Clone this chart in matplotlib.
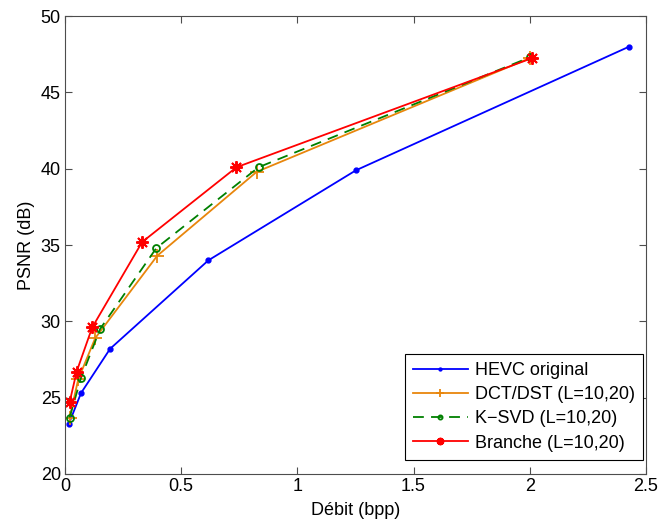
import matplotlib
matplotlib.use('Agg')
import matplotlib.pyplot as plt

plt.rcParams['font.family'] = ['Liberation Sans', 'DejaVu Sans']
plt.rcParams['font.size'] = 13

# rate (bpp) / PSNR (dB)
hevc_x = [0.017, 0.069, 0.194, 0.617, 1.252, 2.427]
hevc_y = [23.3, 25.3, 28.2, 34.0, 39.9, 48.0]

dct_x = [0.02, 0.057, 0.13, 0.397, 0.825, 2.0]
dct_y = [23.7, 26.2, 28.9, 34.3, 39.8, 47.25]

ksvd_x = [0.02, 0.069, 0.151, 0.393, 0.833, 2.0]
ksvd_y = [23.7, 26.3, 29.5, 34.8, 40.1, 47.3]

branche_x = [0.02, 0.05, 0.117, 0.332, 0.738, 2.01]
branche_y = [24.7, 26.7, 29.6, 35.2, 40.1, 47.25]

fig = plt.figure(figsize=(6.59, 5.22), dpi=100)
ax = fig.add_axes([0.0986, 0.092, 0.8816, 0.877])

ax.plot(hevc_x, hevc_y, color='#0000ff', marker='.', markersize=7, lw=1.3, label='HEVC original')
ax.plot(dct_x, dct_y, color='#e8860c', marker='+', markersize=10, mew=1.3, lw=1.3, label='DCT/DST (L=10,20)')
ax.plot(ksvd_x, ksvd_y, color='#008000', marker='o', markersize=5, mfc='none', mew=1.3, lw=1.3,
        dashes=(6, 4), label='K\u2212SVD (L=10,20)')
# matlab style asterisk: 8-armed star
ax.plot(branche_x, branche_y, color='#ff0000', marker=(8, 2, 0), markersize=9, mew=1.4, lw=1.3,
        label='Branche (L=10,20)')

ax.set_xlim(0, 2.5)
ax.set_ylim(20, 50)
ax.set_xticks([0, 0.5, 1, 1.5, 2, 2.5])
ax.set_xticklabels(['0', '0.5', '1', '1.5', '2', '2.5'])
ax.set_yticks(range(20, 51, 5))
ax.tick_params(direction='in', top=True, right=True, length=5, color='0.3', pad=3)
for s in ax.spines.values():
    s.set_color('0.3')
ax.set_xlabel('Débit (bpp)', labelpad=5)
ax.set_ylabel('PSNR (dB)', labelpad=4)

leg = ax.legend(loc='lower right', bbox_to_anchor=(0.995, 0.031), borderaxespad=0,
                fancybox=False, edgecolor='black', framealpha=1, markerscale=0.6,
                handlelength=3.05, handletextpad=0.4, fontsize=13, labelspacing=0.4,
                borderpad=0.45)
leg.get_frame().set_linewidth(0.8)

fig.savefig('out.png', dpi=100)
